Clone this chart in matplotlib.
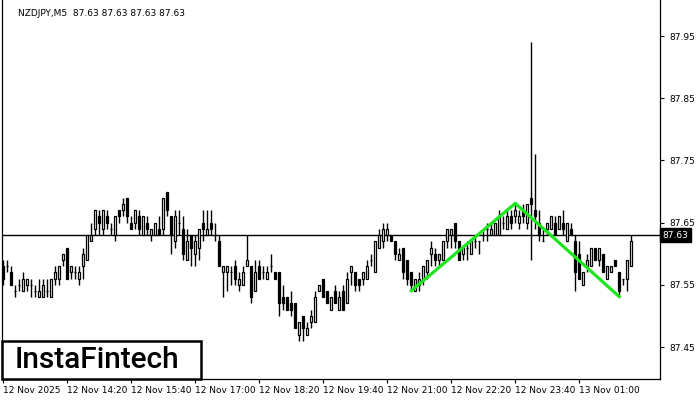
import matplotlib.pyplot as plt
import matplotlib.patches as patches
import numpy as np

# NZDJPY M5 candles (bar 0 = 12 Nov 2025 13:00)
opens = [87.58, 87.58, 87.57, 87.54, 87.55, 87.54, 87.55, 87.55, 87.54, 87.53,
         87.53, 87.54, 87.53, 87.56, 87.56, 87.59, 87.61, 87.57, 87.57, 87.56,
         87.58, 87.59, 87.62, 87.64, 87.66, 87.64, 87.66, 87.64, 87.63, 87.67,
         87.67, 87.69, 87.65, 87.65, 87.66, 87.63, 87.65, 87.63, 87.63, 87.64,
         87.64, 87.70, 87.66, 87.62, 87.65, 87.64, 87.59, 87.63, 87.60, 87.61,
         87.65, 87.63, 87.65, 87.63, 87.62, 87.57, 87.57, 87.57, 87.58, 87.55,
         87.55, 87.58, 87.58, 87.54, 87.58, 87.57, 87.56, 87.58, 87.57, 87.57,
         87.53, 87.53, 87.52, 87.52, 87.47, 87.50, 87.47, 87.49, 87.49, 87.54,
         87.56, 87.54, 87.51, 87.54, 87.51, 87.54, 87.52, 87.57, 87.57, 87.56,
         87.56, 87.56, 87.59, 87.57, 87.61, 87.62, 87.63, 87.63, 87.62, 87.59,
         87.61, 87.59, 87.57, 87.54, 87.55, 87.56, 87.57, 87.60, 87.60, 87.59,
         87.59, 87.62, 87.63, 87.65, 87.62, 87.60, 87.61, 87.60, 87.62, 87.62,
         87.63, 87.64, 87.63, 87.63, 87.63, 87.65, 87.64, 87.66, 87.66, 87.65,
         87.67, 87.65, 87.69, 87.67, 87.65, 87.62, 87.64, 87.64, 87.65, 87.64,
         87.65, 87.62, 87.64, 87.62, 87.60, 87.55, 87.58, 87.58, 87.61, 87.59,
         87.60, 87.56, 87.57, 87.59, 87.57, 87.56, 87.56, 87.58]
highs = [87.59, 87.59, 87.58, 87.55, 87.56, 87.57, 87.56, 87.56, 87.55, 87.56,
         87.56, 87.56, 87.56, 87.58, 87.58, 87.60, 87.61, 87.58, 87.58, 87.58,
         87.61, 87.63, 87.65, 87.67, 87.67, 87.67, 87.67, 87.65, 87.66, 87.67,
         87.69, 87.69, 87.66, 87.67, 87.67, 87.66, 87.66, 87.64, 87.65, 87.66,
         87.69, 87.70, 87.66, 87.67, 87.67, 87.66, 87.64, 87.63, 87.63, 87.64,
         87.67, 87.67, 87.67, 87.65, 87.63, 87.58, 87.58, 87.58, 87.59, 87.57,
         87.58, 87.63, 87.58, 87.59, 87.59, 87.58, 87.58, 87.60, 87.57, 87.57,
         87.55, 87.53, 87.54, 87.52, 87.49, 87.50, 87.49, 87.51, 87.54, 87.55,
         87.56, 87.54, 87.53, 87.55, 87.54, 87.55, 87.57, 87.58, 87.57, 87.56,
         87.57, 87.59, 87.60, 87.62, 87.64, 87.65, 87.65, 87.63, 87.62, 87.61,
         87.61, 87.59, 87.57, 87.56, 87.57, 87.58, 87.59, 87.62, 87.61, 87.60,
         87.62, 87.64, 87.64, 87.65, 87.62, 87.61, 87.62, 87.62, 87.63, 87.62,
         87.64, 87.65, 87.65, 87.65, 87.67, 87.66, 87.67, 87.67, 87.68, 87.67,
         87.68, 87.68, 87.94, 87.76, 87.67, 87.64, 87.65, 87.66, 87.66, 87.66,
         87.67, 87.65, 87.65, 87.63, 87.62, 87.57, 87.60, 87.61, 87.61, 87.61,
         87.60, 87.58, 87.58, 87.59, 87.57, 87.56, 87.59, 87.63]
lows = [87.55, 87.57, 87.55, 87.53, 87.54, 87.54, 87.54, 87.53, 87.53, 87.53,
        87.53, 87.53, 87.53, 87.55, 87.55, 87.58, 87.56, 87.56, 87.56, 87.55,
        87.56, 87.59, 87.62, 87.63, 87.63, 87.63, 87.64, 87.63, 87.62, 87.65,
        87.66, 87.65, 87.64, 87.64, 87.63, 87.63, 87.63, 87.62, 87.63, 87.63,
        87.63, 87.66, 87.60, 87.61, 87.63, 87.59, 87.59, 87.58, 87.58, 87.59,
        87.62, 87.63, 87.63, 87.62, 87.58, 87.53, 87.54, 87.55, 87.55, 87.54,
        87.55, 87.58, 87.52, 87.54, 87.56, 87.56, 87.56, 87.57, 87.56, 87.50,
        87.51, 87.51, 87.50, 87.48, 87.46, 87.46, 87.47, 87.48, 87.49, 87.54,
        87.53, 87.52, 87.51, 87.52, 87.51, 87.51, 87.52, 87.55, 87.54, 87.54,
        87.55, 87.56, 87.58, 87.57, 87.61, 87.61, 87.62, 87.62, 87.59, 87.59,
        87.56, 87.55, 87.54, 87.54, 87.54, 87.55, 87.56, 87.58, 87.58, 87.58,
        87.59, 87.61, 87.61, 87.61, 87.59, 87.59, 87.59, 87.60, 87.61, 87.60,
        87.62, 87.62, 87.63, 87.63, 87.63, 87.64, 87.64, 87.64, 87.65, 87.64,
        87.65, 87.64, 87.59, 87.64, 87.62, 87.62, 87.63, 87.64, 87.63, 87.64,
        87.63, 87.62, 87.63, 87.54, 87.56, 87.55, 87.57, 87.58, 87.59, 87.58,
        87.57, 87.56, 87.57, 87.58, 87.53, 87.55, 87.54, 87.58]
closes = [87.56, 87.58, 87.55, 87.54, 87.55, 87.56, 87.56, 87.55, 87.54, 87.54,
          87.55, 87.54, 87.56, 87.57, 87.58, 87.60, 87.56, 87.58, 87.57, 87.57,
          87.60, 87.63, 87.63, 87.67, 87.65, 87.67, 87.65, 87.64, 87.66, 87.66,
          87.68, 87.66, 87.64, 87.67, 87.64, 87.66, 87.64, 87.64, 87.65, 87.63,
          87.69, 87.67, 87.63, 87.66, 87.65, 87.60, 87.62, 87.61, 87.62, 87.64,
          87.64, 87.64, 87.64, 87.63, 87.58, 87.58, 87.58, 87.57, 87.56, 87.56,
          87.57, 87.59, 87.53, 87.57, 87.56, 87.57, 87.57, 87.58, 87.56, 87.52,
          87.52, 87.51, 87.51, 87.48, 87.49, 87.48, 87.48, 87.50, 87.53, 87.55,
          87.53, 87.52, 87.53, 87.52, 87.53, 87.51, 87.56, 87.58, 87.55, 87.55,
          87.57, 87.58, 87.59, 87.62, 87.63, 87.64, 87.64, 87.62, 87.60, 87.60,
          87.57, 87.56, 87.55, 87.56, 87.56, 87.58, 87.59, 87.61, 87.59, 87.60,
          87.62, 87.64, 87.64, 87.62, 87.59, 87.61, 87.61, 87.62, 87.62, 87.62,
          87.63, 87.64, 87.64, 87.65, 87.66, 87.65, 87.66, 87.65, 87.67, 87.66,
          87.66, 87.68, 87.68, 87.66, 87.63, 87.62, 87.65, 87.66, 87.63, 87.66,
          87.64, 87.65, 87.63, 87.57, 87.56, 87.57, 87.59, 87.61, 87.59, 87.61,
          87.57, 87.58, 87.58, 87.58, 87.54, 87.56, 87.59, 87.62]

bid = 87.63
# double top pattern (bar index, price)
pattern_x = [102, 128, 154]
pattern_y = [87.5405, 87.681, 87.531]

time_ticks = [0, 16, 32, 48, 64, 80, 96, 112, 128, 144]
time_labels = ['12 Nov 2025', '12 Nov 14:20', '12 Nov 15:40', '12 Nov 17:00',
               '12 Nov 18:20', '12 Nov 19:40', '12 Nov 21:00', '12 Nov 22:20',
               '12 Nov 23:40', '13 Nov 01:00']
price_ticks = [87.45, 87.55, 87.65, 87.75, 87.85, 87.95]

fig = plt.figure(figsize=(7, 4), dpi=100)
ax = fig.add_axes([2 / 700, 21 / 400, 658 / 700, 379 / 400])

x = np.arange(len(opens))
o = np.array(opens)
h = np.array(highs)
l = np.array(lows)
c = np.array(closes)
up = c >= o

ax.vlines(x, l, h, color='black', linewidth=1, zorder=2)
ax.bar(x[up], c[up] - o[up], bottom=o[up], width=0.58, color='white',
       edgecolor='black', linewidth=0.9, zorder=3)
ax.bar(x[~up], o[~up] - c[~up], bottom=c[~up], width=0.58, color='black',
       edgecolor='black', linewidth=0.9, zorder=3)

ax.axhline(bid, color='black', linewidth=1, zorder=1)
ax.plot(pattern_x, pattern_y, color='#1ee61e', linewidth=2.3, zorder=4)

ax.set_xlim(-0.325, 164.175)
ax.set_ylim(87.3986, 88.008)

ax.yaxis.tick_right()
ax.set_yticks(price_ticks)
ax.set_yticklabels(['%.2f' % p for p in price_ticks])
ax.set_xticks(time_ticks)
ax.set_xticklabels(time_labels, ha='left')
ax.tick_params(axis='both', labelsize=6.5, length=3, width=0.8, pad=2,
               direction='out', colors='black')
ax.tick_params(axis='y', pad=4)
ax.spines['top'].set_visible(False)
for s in ['left', 'right', 'bottom']:
    ax.spines[s].set_linewidth(0.9)

# bid label on price scale
ax.text(1.004, bid, '%.2f' % bid, transform=ax.get_yaxis_transform(),
        fontsize=6.5, color='white', va='center', ha='left',
        bbox=dict(boxstyle='square,pad=0.25', facecolor='black', edgecolor='black'))

ax.text(0.025, 0.975, 'NZDJPY,M5  87.63 87.63 87.63 87.63', transform=ax.transAxes,
        fontsize=6.5, va='top', ha='left', color='black')

# logo box
fig.patches.append(patches.Rectangle((2 / 700, 21 / 400), 199 / 700, 38 / 400,
                                     transform=fig.transFigure, facecolor='white',
                                     edgecolor='black', linewidth=1.8, zorder=5))
fig.text(97 / 700, 40 / 400, 'InstaFintech', fontsize=21.5, family='Roboto',
         fontweight='medium', ha='center', va='center', color='black', zorder=6)

fig.savefig('out.png', dpi=100)
